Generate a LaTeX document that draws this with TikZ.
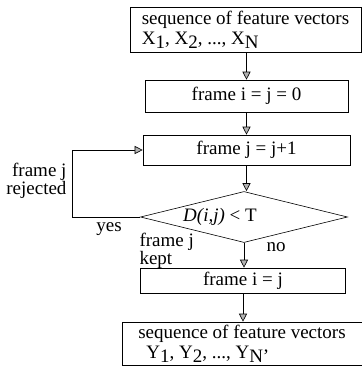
\documentclass[tikz,border=0pt]{standalone}
\usepackage{fontspec}
\setmainfont{Liberation Serif}
\usetikzlibrary{shapes.geometric, arrows.meta, positioning}

\tikzset{
  stepbox/.style={draw, line width=0.6pt, minimum height=30pt, inner sep=2pt},
  decision/.style={draw, line width=0.6pt, diamond, aspect=4, inner sep=0pt,
    minimum width=207pt, minimum height=51pt},
  flow/.style={-{Triangle[fill=gray!60, length=8pt, width=8pt]}, line width=0.6pt},
}
\newcommand{\subtxt}[1]{\raisebox{-4pt}{#1}}

\begin{document}
\begin{tikzpicture}[x=1pt, y=-1pt, font=\fontsize{19}{17}\selectfont]
    \useasboundingbox (0,0) rectangle (362,368);

    % Boxes
    \node[stepbox, minimum width=231pt, minimum height=45pt, align=left] (seqx) at (245.5,29.5)
        {sequence of feature vectors\\[3pt] X\subtxt{1}, X\subtxt{2}, ..., X\subtxt{N}};
    \node[stepbox, minimum width=203pt, minimum height=32pt] (init) at (246.5,96) {frame i = j = 0};
    \node[stepbox, minimum width=207pt, minimum height=30pt] (incr) at (246.5,150) {frame j = j+1};
    \node[decision, label={[xshift=-24pt]center:\textit{D(i,j)} < T}] (test) at (244,217) {};
    \node[stepbox, minimum width=205pt, minimum height=25pt] (keep) at (243,280.5) {frame i = j};
    \node[stepbox, minimum width=240pt, minimum height=43pt, align=left] (seqy) at (242,343.5)
        {sequence of feature vectors\\[3pt] \hspace*{8pt}Y\subtxt{1}, Y\subtxt{2}, ..., Y\subtxt{N'}};

    % Arrows
    \draw[flow] (seqx.south -| init.north) -- (init.north);
    \draw[flow] (init.south) -- (incr.north);
    \draw[flow] (incr.south) -- (incr.south |- test.north);
    \draw[flow] (test.south) -- (test.south |- keep.north);
    \draw[flow] (keep.south) -- (keep.south |- seqy.north);
    \draw[flow] (test.west) -- ++(-68,0) |- (incr.west);

    % Labels
    \node[anchor=east, align=right] (rej) at (70,181) {frame j\\rejected};
    \node (yes) at (109,229) {yes};
    \node[anchor=west, align=left] (kept) at (136,251) {frame j\\kept};
    \node (no) at (276,247) {no};
\end{tikzpicture}
\end{document}
